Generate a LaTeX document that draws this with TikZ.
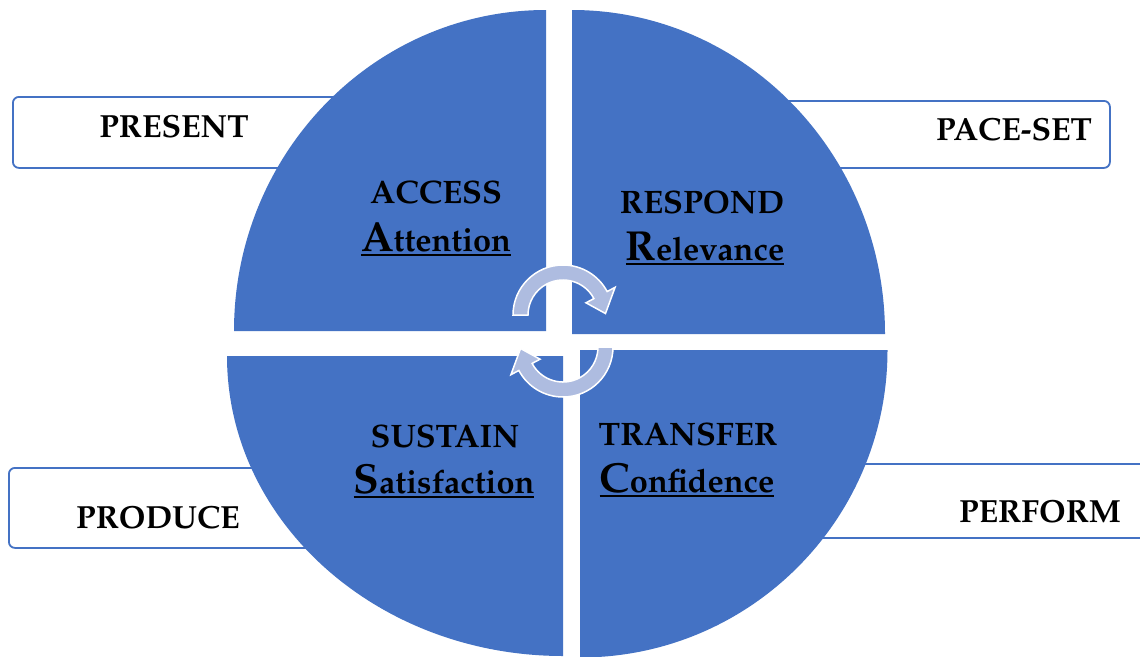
\documentclass[tikz,border=0pt]{standalone}
\usepackage[T1]{fontenc}
\renewcommand{\rmdefault}{ppl}
\definecolor{qblue}{HTML}{4472C4}
\definecolor{arrowfill}{HTML}{AEBCE0}
% large initial letter followed by the rest of the word
\newcommand{\bigini}[2]{{\fontsize{42}{42}\selectfont #1}{\fontsize{32.5}{32.5}\selectfont #2}}
% heavy underline under a word
\newcommand{\ulword}[1]{\setbox0=\hbox{#1}\rlap{\rule[-4.5pt]{\wd0}{1.8pt}}\box0}
\begin{document}
\begin{tikzpicture}[x=1pt,y=-1pt,
  quad/.style={fill=qblue},
  tagbox/.style={draw=qblue, line width=1.8pt, rounded corners=6pt, fill=white,
    inner sep=0pt, anchor=north west},
  tagtext/.style={font=\fontsize{32}{38}\selectfont\bfseries, anchor=base, inner sep=0pt},
  qtext/.style={font=\fontsize{32.5}{38}\selectfont\bfseries, anchor=base, inner sep=0pt},
  cyclearrow/.style={fill=arrowfill, draw=white, line width=1.5pt, line join=miter}]
\clip (0,0) rectangle (1140,656);
\useasboundingbox (0,0) rectangle (1140,656);
\fill[white] (0,0) rectangle (1140,656);

% label frames, partly tucked behind the quarter discs
\node[tagbox, minimum width=438pt, minimum height=71pt] (presentbox) at (12,96) {};
\node[tagbox, minimum width=409pt, minimum height=67pt] (pacesetbox) at (700,100) {};
\node[tagbox, minimum width=412pt, minimum height=80pt] (producebox) at (8,467) {};
\node[tagbox, minimum width=460pt, minimum height=74pt] (performbox) at (700,463) {};

% four quarter discs
\fill[quad] (546,331) -- (234,331) arc[start angle=180,end angle=270,x radius=312,y radius=321] -- cycle;
\fill[quad] (572,334) -- (572,10) arc[start angle=270,end angle=360,x radius=313,y radius=324] -- cycle;
\fill[quad] (580,350) -- (887.5,350) arc[start angle=0,end angle=90,radius=307.5] -- cycle;
\fill[quad] (563,356) -- (563,656) arc[start angle=90,end angle=180,x radius=336,y radius=300] -- cycle;

% circular arrows in the middle
\begin{scope}[shift={(563,315)}]
  \filldraw[cyclearrow] (180:50) arc[start angle=180,end angle=332,radius=50]
    -- (332:59) -- (358:42.5) -- (332:26) -- (332:35)
    arc[start angle=332,end angle=180,radius=35] -- cycle;
\end{scope}
\begin{scope}[shift={(563,347)}]
  \filldraw[cyclearrow] (0:50) arc[start angle=0,end angle=152,radius=50]
    -- (152:59) -- (178:42.5) -- (152:26) -- (152:35)
    arc[start angle=152,end angle=0,radius=35] -- cycle;
\end{scope}

% frame labels
\node[tagtext] (present) at (174,137) {PRESENT};
\node[tagtext] (paceset) at (1014,140) {PACE-SET};
\node[tagtext] (produce) at (158,528) {PRODUCE};
\node[tagtext] (perform) at (1040,522) {PERFORM};

% quadrant texts
\node[qtext] (access) at (436,203) {ACCESS};
\node[qtext] (attention) at (436,251) {\ulword{\bigini{A}{ttention}}};
\node[qtext] (respond) at (702,213) {RESPOND};
\node[qtext] (relevance) at (705,260) {\ulword{\bigini{R}{elevance}}};
\node[qtext] (sustain) at (445,447) {SUSTAIN};
\node[qtext] (satisfaction) at (444,493) {\ulword{\bigini{S}{atisfaction}}};
\node[qtext] (transfer) at (688,445) {TRANSFER};
\node[qtext] (confidence) at (687,492) {\ulword{\bigini{C}{onfidence}}};
\end{tikzpicture}
\end{document}
